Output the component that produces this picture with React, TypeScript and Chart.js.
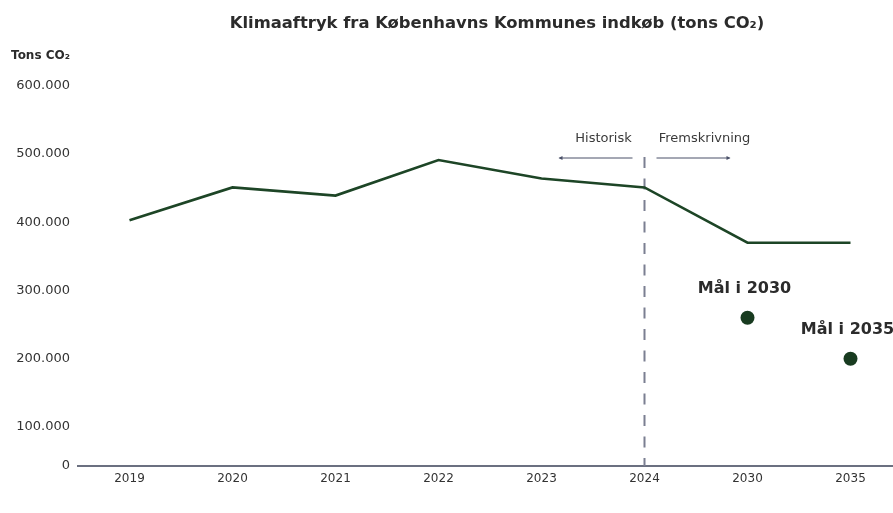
import { useEffect, useRef } from "react";
import { Chart, registerables } from "chart.js";

Chart.register(...registerables);

const categories = ["2019", "2020", "2021", "2022", "2023", "2024", "2030", "2035"];
const emissions = [403000, 451000, 439000, 491000, 464000, 451000, 370000, 370000];
const targets = [null, null, null, null, null, null, 260000, 200000];
const targetLabels = ["", "", "", "", "", "", "Mål i 2030", "Mål i 2035"];
const yTicks = [100000, 200000, 300000, 400000, 500000, 600000];
const yMin = 43000;
const yMax = 620000;
const splitIndex = 5;

const FONT = "'DejaVu Sans', sans-serif";

function fmt(v: number) {
  return String(Math.round(v)).replace(/\B(?=(\d{3})+(?!\d))/g, ".");
}

const annotations = {
  id: "annotations",
  beforeDatasetsDraw(chart: any) {
    const { ctx, chartArea, scales } = chart;
    const x = scales.x.getPixelForValue(splitIndex);
    ctx.save();
    ctx.strokeStyle = "#7b7f91";
    ctx.lineWidth = 2;
    ctx.setLineDash([11, 10.5]);
    ctx.beginPath();
    ctx.moveTo(x, chartArea.top + 85);
    ctx.lineTo(x, chartArea.bottom);
    ctx.stroke();
    ctx.restore();
  },
  afterDraw(chart: any) {
    const { ctx, chartArea, scales } = chart;
    const x = scales.x.getPixelForValue(splitIndex);
    ctx.save();
    // title
    ctx.fillStyle = "#2b2b2b";
    ctx.font = `bold 16.4px ${FONT}`;
    ctx.textAlign = "center";
    ctx.textBaseline = "middle";
    ctx.fillText("Klimaaftryk fra Københavns Kommunes indkøb (tons CO₂)", 497, 24);
    // axis title
    ctx.font = `bold 12px ${FONT}`;
    ctx.textAlign = "right";
    ctx.fillText("Tons CO₂", 70, 56);
    // Historisk / Fremskrivning
    ctx.font = `13px ${FONT}`;
    ctx.fillStyle = "#3a3a3a";
    ctx.textAlign = "center";
    ctx.fillText("Historisk", x - 41, 139);
    ctx.fillText("Fremskrivning", x + 60, 139);
    const ay = chartArea.top + 86;
    ctx.strokeStyle = "#4a5068";
    ctx.fillStyle = "#4a5068";
    ctx.lineWidth = 1;
    ctx.beginPath();
    ctx.moveTo(x - 85, ay);
    ctx.lineTo(x - 12, ay);
    ctx.moveTo(x + 12, ay);
    ctx.lineTo(x + 85, ay);
    ctx.stroke();
    ctx.beginPath();
    ctx.moveTo(x - 86, ay);
    ctx.lineTo(x - 82, ay - 2);
    ctx.lineTo(x - 82, ay + 2);
    ctx.closePath();
    ctx.moveTo(x + 86, ay);
    ctx.lineTo(x + 82, ay - 2);
    ctx.lineTo(x + 82, ay + 2);
    ctx.closePath();
    ctx.fill();
    // target labels
    const meta = chart.getDatasetMeta(1);
    ctx.font = `bold 16px ${FONT}`;
    ctx.fillStyle = "#2b2b2b";
    ctx.textAlign = "center";
    meta.data.forEach((pt: any, i: number) => {
      if (targets[i] == null || !targetLabels[i]) return;
      ctx.fillText(targetLabels[i], pt.x - 3, pt.y - 29);
    });
    ctx.restore();
  },
};

export default function App() {
  const ref = useRef<HTMLCanvasElement>(null);
  useEffect(() => {
    document.body.style.margin = "0";
    document.body.style.overflow = "hidden";
    if (!ref.current) return;
    const chart = new Chart(ref.current, {
      type: "line",
      data: {
        labels: categories,
        datasets: [
          {
            data: emissions,
            borderColor: "#1d4526",
            borderWidth: 2.6,
            pointRadius: 0,
            tension: 0,
          },
          {
            data: targets,
            showLine: false,
            pointRadius: 7,
            pointBackgroundColor: "#183b20",
            pointBorderColor: "#183b20",
            pointBorderWidth: 0,
          },
        ],
      },
      plugins: [annotations],
      options: {
        animation: false,
        responsive: true,
        maintainAspectRatio: false,
        layout: { padding: { top: 72, right: 8, left: 0, bottom: 0 } },
        plugins: { legend: { display: false }, tooltip: { enabled: false }, title: { display: false } },
        scales: {
          x: {
            type: "category",
            offset: true,
            grid: { display: false, drawTicks: false },
            border: { display: true, color: "#6b7080", width: 2 },
            ticks: { color: "#333", padding: 6, font: { family: FONT, size: 12 } },
            afterFit(scale: any) {
              scale.height = 47;
            },
          },
          y: {
            min: yMin,
            max: yMax,
            grid: { display: false, drawTicks: false },
            border: { display: false },
            afterBuildTicks(scale: any) {
              scale.ticks = [yMin, ...yTicks].map((v) => ({ value: v }));
            },
            afterFit(scale: any) {
              scale.width = 78;
            },
            ticks: {
              color: "#333",
              padding: 8,
              font: { family: FONT, size: 13 },
              callback: (v: any) => (Number(v) === yMin ? "0" : fmt(Number(v))),
            },
          },
        },
      },
    });
    return () => chart.destroy();
  }, []);
  return (
    <div style={{ width: 893, height: 513, overflow: "hidden", position: "relative" }}>
      <div style={{ width: 910, height: 513 }}>
        <canvas ref={ref} />
      </div>
    </div>
  );
}
